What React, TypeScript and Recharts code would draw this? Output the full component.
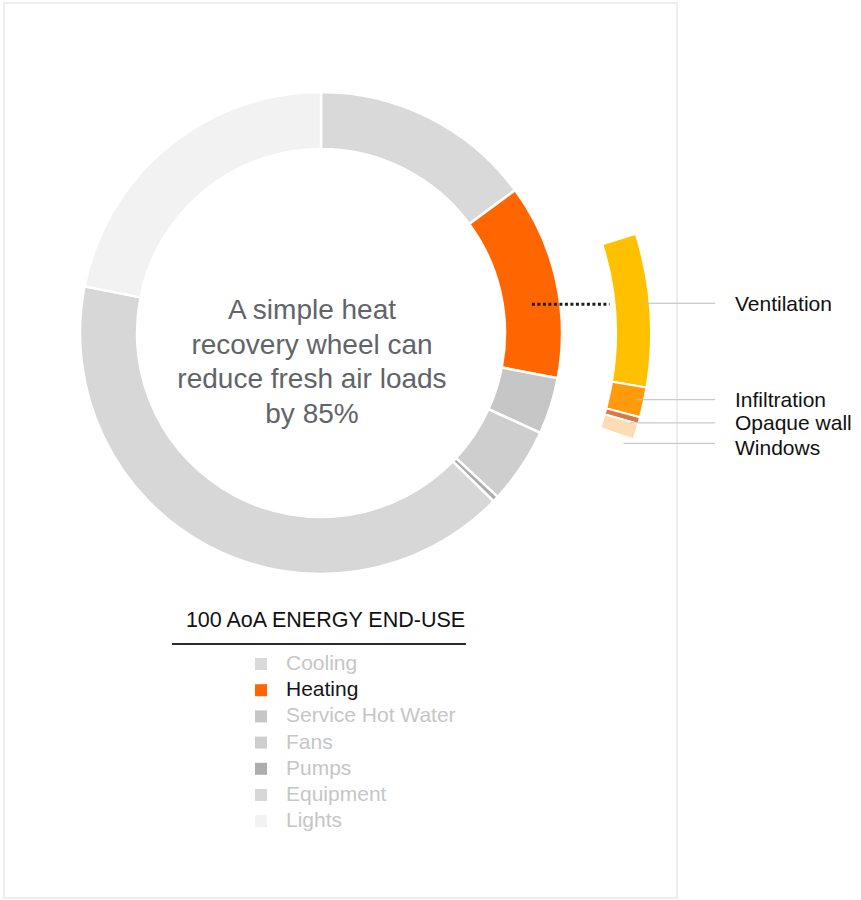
import { PieChart, Pie, Cell } from "recharts";

// main donut: share of total energy end-use (%), clockwise from 12 o'clock
const endUseNames = ["Cooling", "Heating", "Service Hot Water", "Fans", "Pumps", "Equipment", "Lights"];
const endUseShares = [14.9, 13.1, 3.8, 5.1, 0.4, 40.8, 21.9];
const endUseColors = ["#d9d9d9", "#ff6600", "#c6c6c6", "#cecece", "#adadad", "#d7d7d7", "#f2f2f2"];

// heating breakdown (%), shown on the outer arc
const heatingNames = ["Ventilation", "Infiltration", "Opaque wall", "Windows"];
const heatingShares = [74.4, 14.6, 3.3, 7.7];
const heatingColors = ["#ffc000", "#ff9a0a", "#d97a45", "#fcdcb5"];

const centerNote = ["A simple heat", "recovery wheel can", "reduce fresh air loads", "by 85%"];
const legendTitle = "100 AoA ENERGY END-USE";

const FONT = "'Liberation Sans', Arial, sans-serif";
const RADIAN = Math.PI / 180;
// small vertical nudges so the stacked labels don't collide
const LABEL_DY = [-8, 1, 7, 21];
const LINE_DY = [0, 0, 0, -4];

const endUseData = endUseNames.map((name, i) => ({ name, value: endUseShares[i] }));
const heatingData = heatingNames.map((name, i) => ({ name, value: heatingShares[i] }));

function HeatingLabel(props: any) {
  const { cx, cy, midAngle, index } = props;
  const y = cy - 312 * Math.sin(midAngle * RADIAN) + LABEL_DY[index];
  const ly = y + LINE_DY[index];
  const dy = ly - cy;
  const x0 = cx + Math.sqrt(322 * 322 - dy * dy);
  return (
    <g>
      {index === 0 && (
        <line
          x1={cx + Math.sqrt(213 * 213 - dy * dy)}
          y1={y + 1}
          x2={cx + Math.sqrt(290 * 290 - dy * dy)}
          y2={y + 1}
          stroke="#1e1e1e"
          strokeWidth={3}
          strokeDasharray="3 2.5"
        />
      )}
      <line x1={x0} y1={ly} x2={715} y2={ly} stroke="#bdbdbd" strokeWidth={1} />
      <text x={735} y={y} dominantBaseline="central" fontFamily={FONT} fontSize={21} fill="#111">
        {heatingNames[index]}
      </text>
    </g>
  );
}

export default function App() {
  return (
    <div style={{ position: "absolute", left: 0, top: 0, width: 861, height: 900, background: "#fff" }}>
      <svg width={861} height={900} style={{ position: "absolute", left: 0, top: 0 }}>
        <rect x={4} y={3} width={673} height={895} fill="none" stroke="#eeeeee" strokeWidth={2} />
      </svg>
      <div style={{ position: "absolute", left: 0, top: 0 }}>
        <PieChart width={861} height={900} margin={{ top: 0, right: 0, bottom: 0, left: 0 }}>
          <Pie
            data={endUseData}
            dataKey="value"
            nameKey="name"
            cx={321}
            cy={333}
            innerRadius={184}
            outerRadius={241}
            startAngle={90}
            endAngle={-270}
            stroke="#ffffff"
            strokeWidth={2.5}
            isAnimationActive={false}
          >
            {endUseData.map((d, i) => (
              <Cell key={d.name} fill={endUseColors[i]} />
            ))}
          </Pie>
          <Pie
            data={heatingData}
            dataKey="value"
            nameKey="name"
            cx={321}
            cy={333}
            innerRadius={295}
            outerRadius={330}
            startAngle={17.5}
            endAngle={-18.8}
            stroke="#ffffff"
            strokeWidth={2}
            label={HeatingLabel}
            labelLine={false}
            isAnimationActive={false}
          >
            {heatingData.map((d, i) => (
              <Cell key={d.name} fill={heatingColors[i]} />
            ))}
          </Pie>
        </PieChart>
      </div>
      <svg width={861} height={900} style={{ position: "absolute", left: 0, top: 0, pointerEvents: "none" }}>
        <text textAnchor="middle" fontFamily={FONT} fontSize={28} fill="#616468">
          {centerNote.map((line, i) => (
            <tspan key={line} x={312} y={319 + i * 34.5}>
              {line}
            </tspan>
          ))}
        </text>
        <text x={325.5} y={627} textAnchor="middle" fontFamily={FONT} fontSize={21.5} fill="#111">
          {legendTitle}
        </text>
        <line x1={172} y1={644} x2={466} y2={644} stroke="#2b2b2b" strokeWidth={2} />
        {endUseNames.map((name, i) => {
          const base = 670 + i * 26.2;
          const active = name === "Heating";
          return (
            <g key={name}>
              <rect x={255} y={base - 12} width={12} height={12} fill={endUseColors[i]} />
              <text x={286} y={base} fontFamily={FONT} fontSize={21} fill={active ? "#151515" : "#c6c6c6"}>
                {name}
              </text>
            </g>
          );
        })}
      </svg>
    </div>
  );
}
